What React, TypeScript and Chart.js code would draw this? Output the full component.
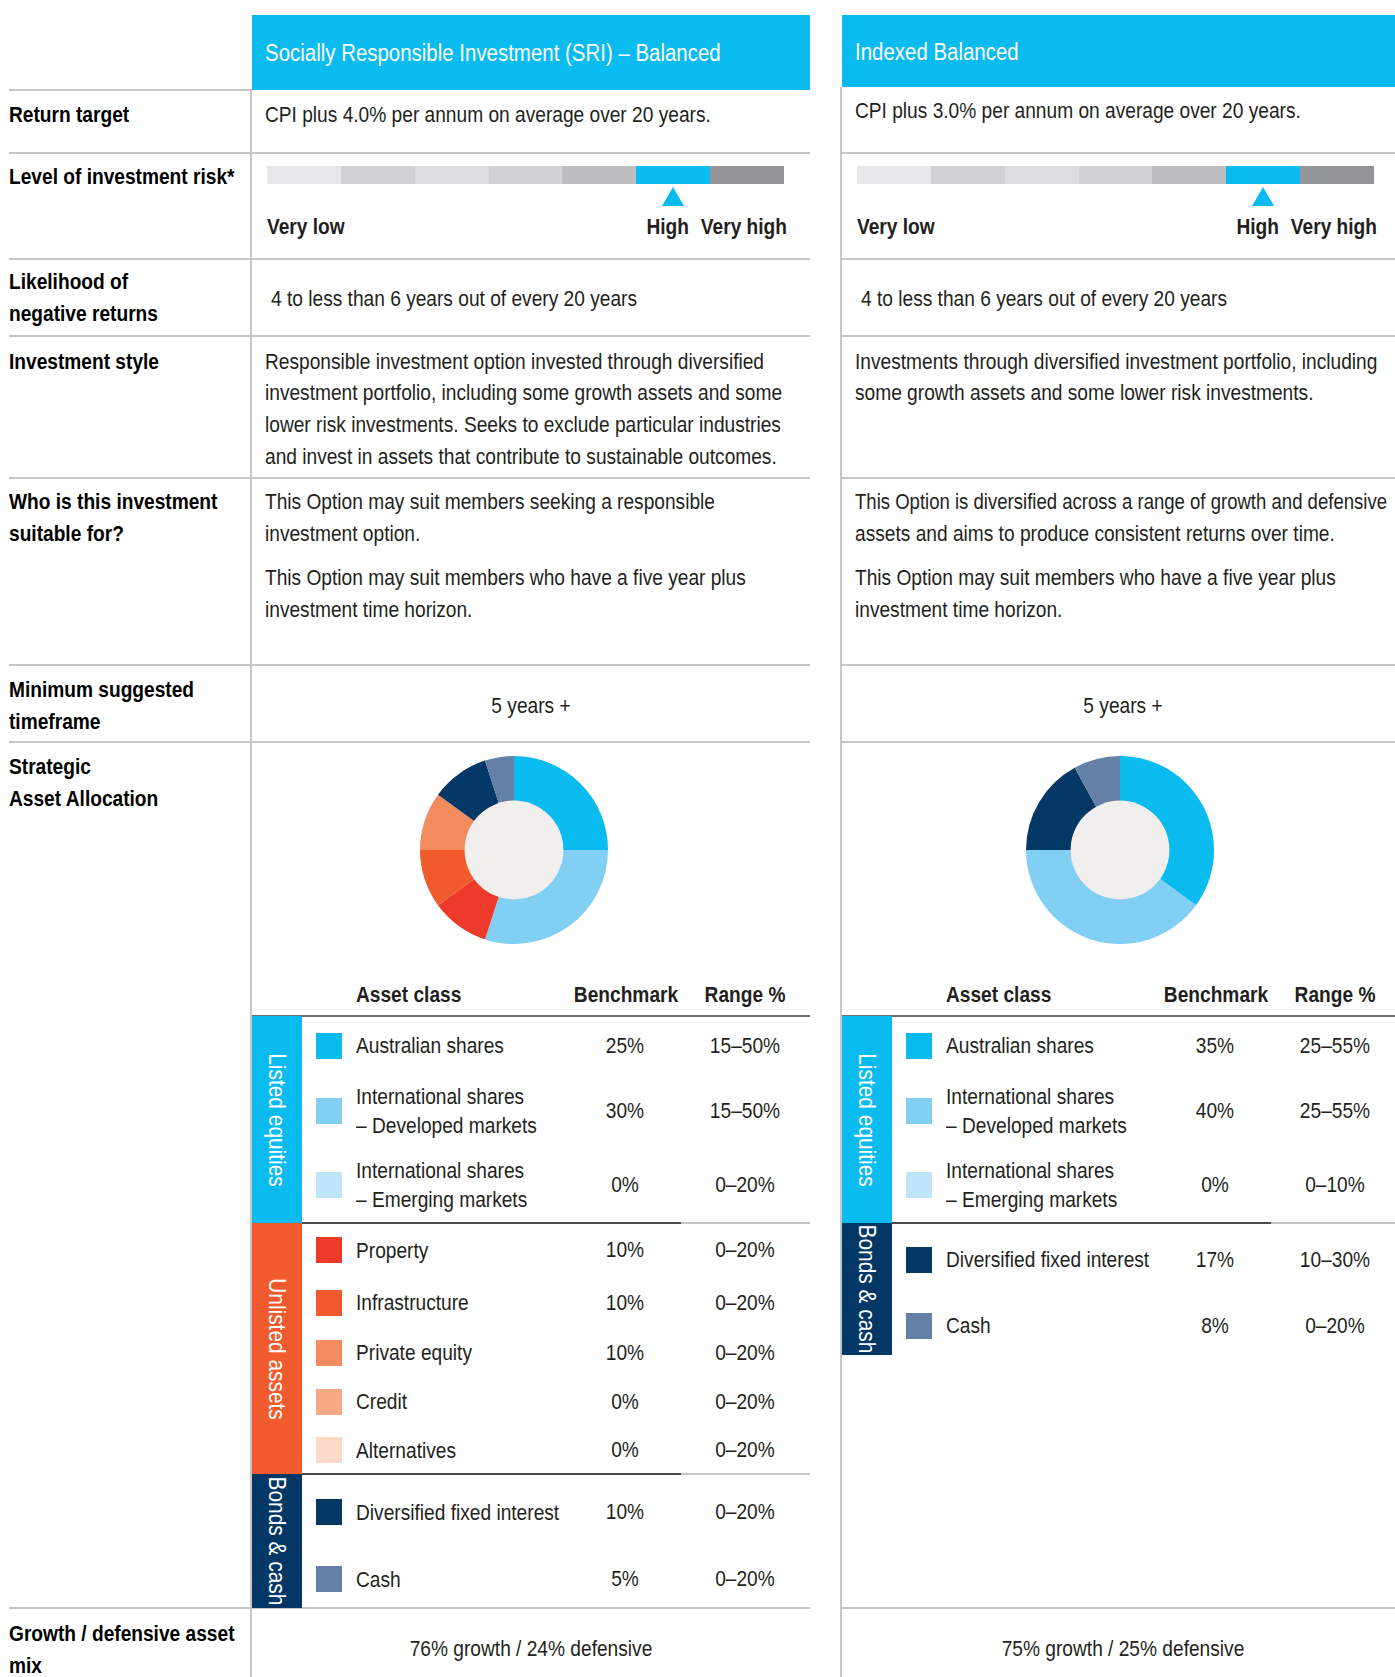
import React, { useEffect, useLayoutEffect, useRef } from "react";
import { Chart, registerables } from "chart.js";
Chart.register(...registerables);

// ---------------- DATA ----------------
const rowLabels = [
  ["Return target"],
  ["Level of investment risk*"],
  ["Likelihood of", "negative returns"],
  ["Investment style"],
  ["Who is this investment", "suitable for?"],
  ["Minimum suggested", "timeframe"],
  ["Strategic", "Asset Allocation"],
  ["Growth / defensive asset", "mix"],
];

const riskScale = ["Very low", "Low", "Low to medium", "Medium", "Medium to high", "High", "Very high"];
const riskColors = ["#e6e7e8", "#d1d2d4", "#dcdddf", "#d1d3d4", "#bcbec0", "#0abbef", "#939598"];

const sriTitle = "Socially Responsible Investment (SRI) – Balanced";
const sriReturn = "CPI plus 4.0% per annum on average over 20 years.";
const sriRisk = 5;
const sriNegative = "4 to less than 6 years out of every 20 years";
const sriStyle = [
  "Responsible investment option invested through diversified",
  "investment portfolio, including some growth assets and some",
  "lower risk investments. Seeks to exclude particular industries",
  "and invest in assets that contribute to sustainable outcomes.",
];
const sriSuitable = [
  ["This Option may suit members seeking a responsible", "investment option."],
  ["This Option may suit members who have a five year plus", "investment time horizon."],
];
const sriTimeframe = "5 years +";
const sriGroups = ["Listed equities", "Unlisted assets", "Bonds & cash"];
const sriGroupSizes = [3, 5, 2];
const sriAssets = [
  ["Australian shares"],
  ["International shares", "– Developed markets"],
  ["International shares", "– Emerging markets"],
  ["Property"],
  ["Infrastructure"],
  ["Private equity"],
  ["Credit"],
  ["Alternatives"],
  ["Diversified fixed interest"],
  ["Cash"],
];
const sriBenchmark = [25, 30, 0, 10, 10, 10, 0, 0, 10, 5];
const sriRange = ["15–50%", "15–50%", "0–20%", "0–20%", "0–20%", "0–20%", "0–20%", "0–20%", "0–20%", "0–20%"];
const sriMix = "76% growth / 24% defensive";

const idxTitle = "Indexed Balanced";
const idxReturn = "CPI plus 3.0% per annum on average over 20 years.";
const idxRisk = 5;
const idxNegative = "4 to less than 6 years out of every 20 years";
const idxStyle = [
  "Investments through diversified investment portfolio, including",
  "some growth assets and some lower risk investments.",
];
const idxSuitable = [
  ["This Option is diversified across a range of growth and defensive", "assets and aims to produce consistent returns over time."],
  ["This Option may suit members who have a five year plus", "investment time horizon."],
];
const idxTimeframe = "5 years +";
const idxGroups = ["Listed equities", "Bonds & cash"];
const idxGroupSizes = [3, 2];
const idxAssets = [
  ["Australian shares"],
  ["International shares", "– Developed markets"],
  ["International shares", "– Emerging markets"],
  ["Diversified fixed interest"],
  ["Cash"],
];
const idxBenchmark = [35, 40, 0, 17, 8];
const idxRange = ["25–55%", "25–55%", "0–10%", "10–30%", "0–20%"];
const idxMix = "75% growth / 25% defensive";

const tableHeaders = ["Asset class", "Benchmark", "Range %"];

// ---------------- STYLES ----------------
const FONT = '"Liberation Sans", Arial, Helvetica, sans-serif';
const SX = 0.87;
const TEXT = "#231f20";
const LINE = "#c6c6c6";
const groupColors: Record<string, string> = {
  "Listed equities": "#0abbef",
  "Unlisted assets": "#f15a2c",
  "Bonds & cash": "#023766",
};
const sriColors = ["#0abbef", "#82cff4", "#bfe4f8", "#ee3a2b", "#f15a2c", "#f48b5f", "#f7a986", "#fcdaca", "#023766", "#6580a6"];
const idxColors = ["#0abbef", "#82cff4", "#bfe4f8", "#023766", "#6580a6"];

// layout
const lineYs = [90, 153, 259, 336, 478, 665, 742, 1608];
const labelTops = [98.5, 160.5, 266, 345.5, 486, 674, 751, 1617.5];
const sriRowHeights = [59, 71, 77, 54, 51, 49, 49, 48, 76, 58];
const idxRowHeights = [59, 71, 77, 73, 59];

const innerFill = {
  id: "innerFill",
  afterDatasetsDraw(chart: any) {
    const arc = chart.getDatasetMeta(0).data[0];
    if (!arc) return;
    const p = arc.getProps(["x", "y", "innerRadius"], true);
    const ctx = chart.ctx;
    ctx.save();
    ctx.beginPath();
    ctx.arc(p.x, p.y, p.innerRadius + 0.5, 0, Math.PI * 2);
    ctx.fillStyle = "#f0efee";
    ctx.fill();
    ctx.restore();
  },
};

function Donut({ labels, values, colors, cx, cy }: any) {
  const ref = useRef<HTMLCanvasElement>(null);
  useEffect(() => {
    const chart = new Chart(ref.current!, {
      type: "doughnut",
      data: {
        labels: labels.map((l: string[]) => l.join(" ")),
        datasets: [{ data: values, backgroundColor: colors, borderWidth: 0 }],
      },
      options: {
        responsive: false,
        animation: false,
        cutout: "52%",
        events: [],
        plugins: { legend: { display: false }, tooltip: { enabled: false } },
      },
      plugins: [innerFill],
    });
    return () => chart.destroy();
  }, []);
  const size = 188;
  return (
    <canvas
      ref={ref}
      width={size}
      height={size}
      style={{ position: "absolute", left: cx - size / 2, top: cy - size / 2, width: size, height: size }}
    />
  );
}

function Line({ x1, x2, y, color = LINE, h = 2 }: any) {
  return <div style={{ position: "absolute", left: x1, top: y - h / 2, width: x2 - x1, height: h, background: color }} />;
}

function Txt({ x, y, children, bold, size = 22, color = TEXT, align = "left", lh = 32, maxW }: any) {
  const ref = useRef<HTMLDivElement>(null);
  useLayoutEffect(() => {
    const el = ref.current;
    if (!el || !maxW || align !== "left") return;
    const natural = el.offsetWidth;
    if (natural * SX > maxW) el.style.transform = `scaleX(${maxW / natural})`;
  }, [maxW, align, children]);
  const style: any = {
    position: "absolute",
    top: y - lh / 2,
    lineHeight: lh + "px",
    fontSize: size,
    fontWeight: bold ? 700 : 400,
    color,
    whiteSpace: "nowrap",
    transform: `scaleX(${SX})`,
  };
  if (align === "center") {
    style.left = x - 400;
    style.width = 800;
    style.textAlign = "center";
    style.transformOrigin = "50% 50%";
  } else if (align === "right") {
    style.left = x - 800;
    style.width = 800;
    style.textAlign = "right";
    style.transformOrigin = "100% 50%";
  } else {
    style.left = x;
    style.transformOrigin = "0 50%";
  }
  return (
    <div ref={ref} style={style}>
      {children}
    </div>
  );
}

function Lines({ x, y, lines, lh = 32, ...rest }: any) {
  return (
    <>
      {lines.map((l: string, i: number) => (
        <Txt key={i} x={x} y={y + i * lh} lh={lh} {...rest}>
          {l}
        </Txt>
      ))}
    </>
  );
}

function OptionColumn(props: any) {
  const {
    left, right, headerBottom, title, titleY, ret, retY, risk, negative, style, suitable, suitableY2,
    timeframe, timeX, donutX, groups, groupSizes, assets, benchmark, range, colors, rowHeights, darkEnd, mix, mixX,
  } = props;
  const ind = 13;
  const maxW = right - left - ind - 8;
  const barL = left + 15;
  const barW = 517;
  const segW = barW / riskColors.length;
  const tableTop = 1016;
  const rowEls: any[] = [];
  let y = tableTop;
  let idx = 0;
  groups.forEach((g: string, gi: number) => {
    const gTop = y;
    let gh = 0;
    for (let k = 0; k < groupSizes[gi]; k++) gh += rowHeights[idx + k];
    rowEls.push(
      <div key={"band" + gi} style={{ position: "absolute", left, top: gTop, width: 50, height: gh, background: groupColors[g] }}>
        <div
          style={{
            position: "absolute",
            left: 25,
            top: gh / 2,
            transform: `translate(-50%, -50%) rotate(90deg) scaleX(${SX})`,
            color: "#fff",
            fontSize: 24,
            whiteSpace: "nowrap",
            lineHeight: "26px",
          }}
        >
          {g}
        </div>
      </div>
    );
    for (let k = 0; k < groupSizes[gi]; k++) {
      const h = rowHeights[idx];
      const cy = y + h / 2;
      const name = assets[idx];
      rowEls.push(
        <div key={"sw" + idx} style={{ position: "absolute", left: left + 64, top: cy - 13, width: 26, height: 26, background: colors[idx] }} />
      );
      rowEls.push(<Lines key={"nm" + idx} x={left + 104} y={cy - (name.length - 1) * 14.5} lh={29} lines={name} />);
      rowEls.push(
        <Txt key={"bm" + idx} x={left + 373} y={cy} align="center">
          {benchmark[idx] + "%"}
        </Txt>
      );
      rowEls.push(
        <Txt key={"rg" + idx} x={left + 493} y={cy} align="center">
          {range[idx]}
        </Txt>
      );
      y += h;
      idx++;
    }
    if (gi < groups.length - 1) {
      rowEls.push(<Line key={"gl" + gi} x1={left + 50} x2={darkEnd} y={y} color="#4d4d4f" />);
      rowEls.push(<Line key={"gl2" + gi} x1={darkEnd} x2={right} y={y} color="#c6c6c6" />);
    }
  });

  return (
    <>
      <div style={{ position: "absolute", left, top: 15, width: right - left, height: headerBottom - 15, background: "#0abbef" }} />
      <Txt x={left + ind} y={titleY} color="#fff" size={23.5}>
        {title}
      </Txt>
      <div style={{ position: "absolute", left: left - 2, top: headerBottom, width: 2, height: 1677 - headerBottom, background: LINE }} />
      {lineYs.slice(1).map((ly, i) => (
        <Line key={i} x1={left} x2={right} y={ly} />
      ))}
      <Txt x={left + ind} y={retY} maxW={maxW}>
        {ret}
      </Txt>
      {riskColors.map((c, i) => (
        <div key={i} style={{ position: "absolute", left: barL + i * segW, top: 166, width: segW + 0.5, height: 18, background: c }} />
      ))}
      <div
        style={{
          position: "absolute",
          left: barL + (risk + 0.5) * segW - 11,
          top: 187,
          width: 0,
          height: 0,
          borderLeft: "11px solid transparent",
          borderRight: "11px solid transparent",
          borderBottom: "19px solid #0abbef",
        }}
      />
      <Txt x={barL} y={227} bold>
        {riskScale[0]}
      </Txt>
      <Txt x={barL + barW - 95} y={227} bold align="right">
        {riskScale[risk]}
      </Txt>
      <Txt x={barL + barW + 3} y={227} bold align="right">
        {riskScale[6]}
      </Txt>
      <Txt x={left + 18.5} y={298.5} maxW={maxW}>
        {negative}
      </Txt>
      <Lines x={left + ind} y={361.5} lh={31.8} lines={style} maxW={maxW} />
      <Lines x={left + ind} y={502} lh={32} lines={suitable[0]} maxW={maxW} />
      <Lines x={left + ind} y={suitableY2} lh={32} lines={suitable[1]} maxW={maxW} />
      <Txt x={timeX} y={706} align="center">
        {timeframe}
      </Txt>
      <Donut labels={assets} values={benchmark} colors={colors} cx={donutX} cy={850} />
      <Txt x={left + 104} y={995} bold>
        {tableHeaders[0]}
      </Txt>
      <Txt x={left + 374} y={995} bold align="center">
        {tableHeaders[1]}
      </Txt>
      <Txt x={left + 493} y={995} bold align="center">
        {tableHeaders[2]}
      </Txt>
      <Line x1={left} x2={right} y={tableTop} color="#6d6e71" />
      {rowEls}
      <Txt x={mixX} y={1648.5} align="center">
        {mix}
      </Txt>
    </>
  );
}

export default function App() {
  return (
    <div
      style={{
        position: "absolute",
        left: 0,
        top: 0,
        width: 1395,
        height: 1677,
        overflow: "hidden",
        background: "#fff",
        fontFamily: FONT,
        color: TEXT,
      }}
    >
      {lineYs.map((ly, i) => (
        <Line key={i} x1={9} x2={252} y={ly} />
      ))}
      {rowLabels.map((l, i) => (
        <Lines key={i} x={9} y={labelTops[i] + 16} lh={32} lines={l} bold color="#000" />
      ))}
      <OptionColumn
        left={252}
        right={810}
        headerBottom={90}
        title={sriTitle}
        titleY={53}
        ret={sriReturn}
        retY={114.5}
        risk={sriRisk}
        negative={sriNegative}
        style={sriStyle}
        suitable={sriSuitable}
        suitableY2={578}
        timeframe={sriTimeframe}
        timeX={531}
        donutX={513.5}
        groups={sriGroups}
        groupSizes={sriGroupSizes}
        assets={sriAssets}
        benchmark={sriBenchmark}
        range={sriRange}
        colors={sriColors}
        rowHeights={sriRowHeights}
        darkEnd={681}
        mix={sriMix}
        mixX={531}
      />
      <OptionColumn
        left={842}
        right={1395}
        headerBottom={87}
        title={idxTitle}
        titleY={51.5}
        ret={idxReturn}
        retY={111}
        risk={idxRisk}
        negative={idxNegative}
        style={idxStyle}
        suitable={idxSuitable}
        suitableY2={578}
        timeframe={idxTimeframe}
        timeX={1123}
        donutX={1120.3}
        groups={idxGroups}
        groupSizes={idxGroupSizes}
        assets={idxAssets}
        benchmark={idxBenchmark}
        range={idxRange}
        colors={idxColors}
        rowHeights={idxRowHeights}
        darkEnd={1271}
        mix={idxMix}
        mixX={1123}
      />
    </div>
  );
}
